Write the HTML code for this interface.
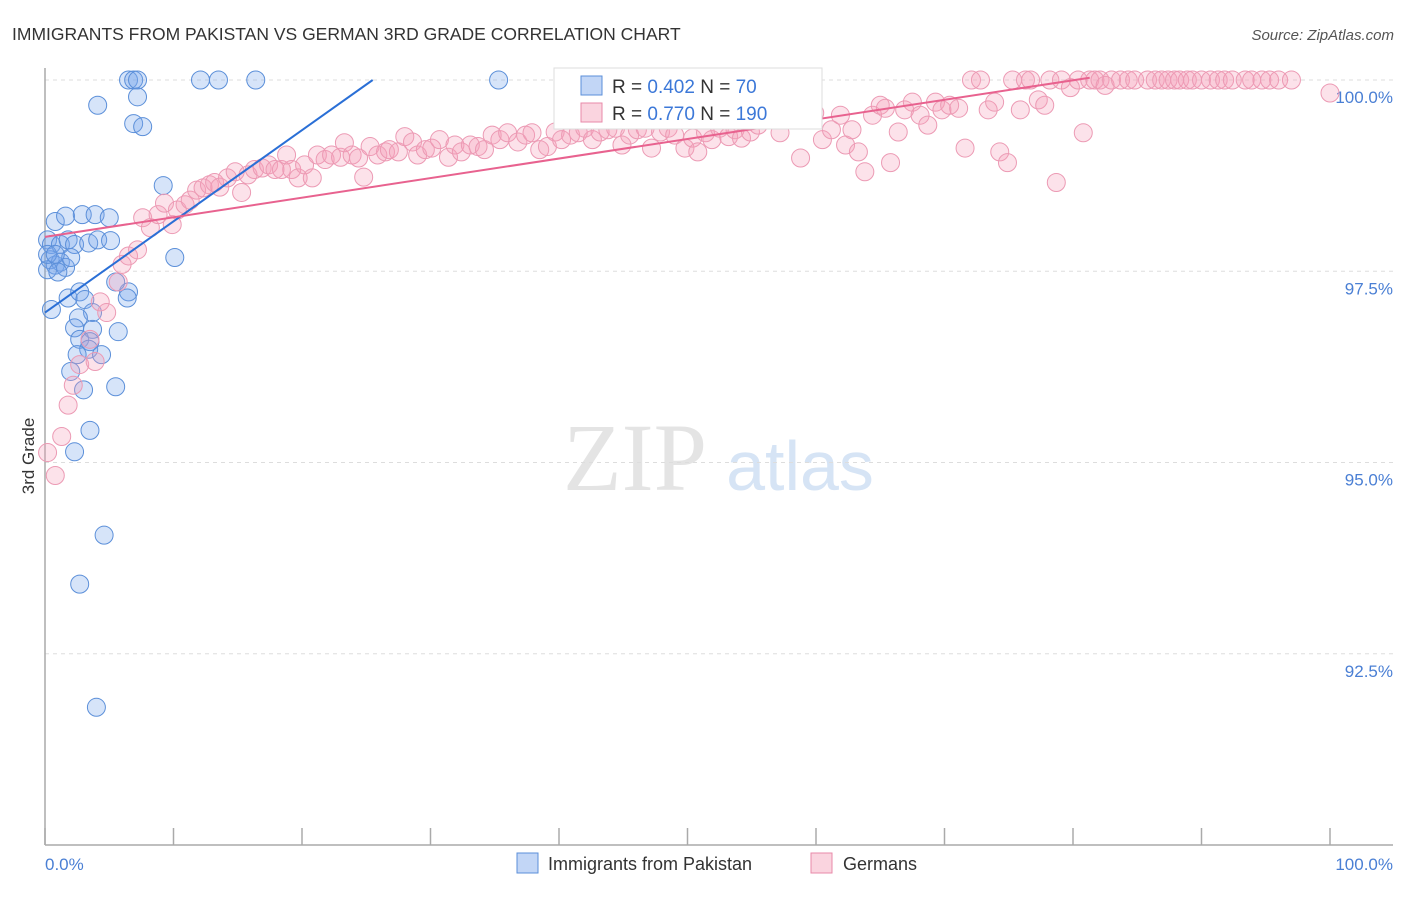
<!DOCTYPE html>
<html><head><meta charset="utf-8"><style>
body{margin:0;background:#fff;font-family:"Liberation Sans",sans-serif;}
svg text{font-family:"Liberation Sans",sans-serif;}
</style></head><body>
<svg id="chart" width="1406" height="892" viewBox="0 0 1406 892" xmlns="http://www.w3.org/2000/svg">
<text x="12" y="40" font-size="17.5" fill="#333">IMMIGRANTS FROM PAKISTAN VS GERMAN 3RD GRADE CORRELATION CHART</text>
<text x="1394" y="40" font-size="15" fill="#555" text-anchor="end" font-style="italic">Source: ZipAtlas.com</text>
<g>
<text x="635" y="490" font-size="96" fill="#e4e4e4" text-anchor="middle" font-family="Liberation Serif" style="font-family:'Liberation Serif',serif">ZIP</text>
<text x="800" y="490" font-size="70" fill="#d6e4f5" text-anchor="middle">atlas</text>
</g>
<g id="grid"></g>
<g id="axes"></g>
<g id="pts"></g>
<g id="trends"></g>
<text transform="translate(34,456) rotate(-90)" font-size="17" fill="#333" text-anchor="middle">3rd Grade</text>
<text x="45" y="870" font-size="17" fill="#4a7fd4">0.0%</text>
<text x="1393" y="870" font-size="17" fill="#4a7fd4" text-anchor="end">100.0%</text>
<g>
<rect x="554" y="68" width="268" height="61" fill="#fff" stroke="#ddd"/>
<rect x="581" y="76" width="21" height="19" fill="rgba(120,165,235,0.45)" stroke="#5b8fd9"/>
<rect x="581" y="103" width="21" height="19" fill="rgba(245,160,185,0.45)" stroke="#e88aa8"/>
<text x="612" y="93" font-size="19" fill="#333">R = <tspan fill="#3c78d8">0.402</tspan>   N =  <tspan fill="#3c78d8">70</tspan></text>
<text x="612" y="120" font-size="19" fill="#333">R = <tspan fill="#3c78d8">0.770</tspan>   N = <tspan fill="#3c78d8">190</tspan></text>
</g>
<g>
<rect x="517" y="853" width="21" height="20" fill="rgba(120,165,235,0.45)" stroke="#5b8fd9"/>
<text x="548" y="870" font-size="18" fill="#333">Immigrants from Pakistan</text>
</g>
<g>
<rect x="811" y="853" width="21" height="20" fill="rgba(245,160,185,0.45)" stroke="#e88aa8"/>
<text x="843" y="870" font-size="18" fill="#333">Germans</text>
</g>
</svg>
<script>
const yTicks=[100,97.5,95,92.5];
const yTickLabels=["100.0%","97.5%","95.0%","92.5%"];
const xTicks=[0,10,20,30,40,50,60,70,80,90,100];
const blueX=[6.5,6.9,7.2,12.1,13.5,16.4,35.3,4.1,7.2,6.9,7.6,9.2,0.8,1.6,2.9,3.9,5.0,0.2,0.5,1.2,1.8,2.3,3.4,4.1,5.1,0.4,0.8,1.2,1.6,2.0,0.2,1.0,10.1,1.8,2.7,3.1,0.5,3.7,2.6,5.7,3.7,2.3,2.7,3.5,3.4,4.4,2.5,2.0,3.0,5.5,3.5,2.3,4.6,2.7,4.0,6.5,5.5,6.4,0.2,0.8];
const blueY=[100,100,100,100,100,100,100,99.67,99.78,99.43,99.39,98.62,98.15,98.22,98.24,98.24,98.2,97.91,97.85,97.85,97.91,97.85,97.87,97.91,97.9,97.65,97.58,97.62,97.55,97.68,97.52,97.49,97.68,97.15,97.23,97.13,97.0,96.96,96.89,96.71,96.74,96.76,96.61,96.58,96.48,96.41,96.41,96.19,95.95,95.99,95.42,95.14,94.05,93.41,91.8,97.23,97.36,97.15,97.72,97.72];
const pinkX=[0.2,0.8,1.3,1.8,2.2,2.7,3.9,3.5,4.3,4.8,5.7,6.0,6.5,7.2,7.6,8.2,8.8,9.3,9.9,10.3,10.9,11.3,11.8,12.3,12.8,13.2,13.6,14.2,14.8,15.3,15.8,16.3,16.9,17.4,17.9,18.4,18.8,19.2,19.7,20.2,20.8,21.2,21.8,22.3,23.0,23.3,23.9,24.4,24.8,25.3,25.9,26.5,26.8,27.5,28.0,28.6,29.0,29.6,30.1,30.7,31.4,31.9,32.4,33.1,33.7,34.2,34.8,35.4,36.0,36.8,37.4,37.9,38.5,39.1,39.7,40.2,40.9,41.5,42.0,42.6,43.2,43.8,44.4,44.9,45.5,46.1,46.7,47.2,47.9,48.5,49.0,49.8,50.4,50.8,51.4,51.9,52.5,53.2,53.7,54.2,54.9,55.5,56.0,56.6,57.2,58.0,58.8,59.4,59.9,60.5,61.2,61.9,62.3,62.8,63.3,63.8,64.4,65.0,65.4,65.8,66.4,66.9,67.5,68.1,68.7,69.3,69.8,70.4,71.1,71.6,72.1,72.8,73.4,73.9,74.3,74.9,75.3,75.9,76.3,76.7,77.3,77.8,78.2,78.7,79.1,79.8,80.4,80.8,81.3,81.7,82.1,82.5,83.0,83.7,84.3,84.8,85.8,86.4,86.9,87.4,87.9,88.3,88.9,89.3,90.0,90.7,91.3,91.8,92.4,93.4,93.9,94.7,95.3,96.0,97.0,100];
const pinkY=[95.13,94.83,95.34,95.75,96.01,96.28,96.32,96.61,97.10,96.96,97.36,97.59,97.70,97.78,98.20,98.07,98.24,98.39,98.11,98.30,98.37,98.43,98.56,98.59,98.63,98.66,98.60,98.72,98.80,98.53,98.76,98.83,98.85,98.89,98.83,98.83,99.02,98.83,98.72,98.89,98.72,99.02,98.96,99.02,98.99,99.18,99.02,98.98,98.73,99.13,99.02,99.06,99.09,99.06,99.26,99.19,99.02,99.09,99.11,99.22,98.99,99.15,99.06,99.15,99.13,99.09,99.28,99.22,99.31,99.19,99.28,99.31,99.09,99.13,99.32,99.22,99.28,99.31,99.37,99.22,99.32,99.35,99.37,99.15,99.28,99.35,99.37,99.11,99.32,99.37,99.28,99.11,99.24,99.06,99.31,99.22,99.37,99.26,99.35,99.24,99.32,99.41,99.48,99.50,99.31,99.50,98.98,99.48,99.57,99.22,99.35,99.54,99.15,99.35,99.06,98.80,99.54,99.67,99.63,98.92,99.32,99.61,99.71,99.54,99.41,99.71,99.61,99.67,99.63,99.11,100,100,99.61,99.71,99.06,98.92,100,99.61,100,100,99.74,99.67,100,98.66,100,99.90,100,99.31,100,100,100,99.93,100,100,100,100,100,100,100,100,100,100,100,100,100,100,100,100,100,100,100,100,100,100,100,99.83];
const blueTrendX=[0,25.5];
const blueTrendY=[96.96,100];
const pinkTrendX=[0,81.3];
const pinkTrendY=[97.95,100.03];

const NS="http://www.w3.org/2000/svg";
const xs=v=>45+v*12.85;
const ys=v=>80+(100-v)*76.5;
function mk(tag,attrs,parent){const e=document.createElementNS(NS,tag);for(const k in attrs)e.setAttribute(k,attrs[k]);parent.appendChild(e);return e;}
const grid=document.getElementById('grid'),axes=document.getElementById('axes'),pts=document.getElementById('pts'),trends=document.getElementById('trends');
yTicks.forEach((t,i)=>{
 const l=mk('line',{x1:45,x2:1393,y1:ys(t),y2:ys(t),stroke:'#ddd','stroke-dasharray':'4,4'},grid);
 
 
 const tx=mk('text',{x:1393,y:ys(t)+23,'font-size':17,fill:'#4a7fd4','text-anchor':'end'},grid);
 tx.textContent=yTickLabels[i];
 
 
});
const ya=mk('line',{x1:45,x2:45,y1:68,y2:845,stroke:'#aaa','stroke-width':1.5},axes);


const xa=mk('line',{x1:45,x2:1393,y1:845,y2:845,stroke:'#aaa','stroke-width':1.5},axes);


xTicks.forEach(t=>{
 const tk=mk('line',{x1:xs(t),x2:xs(t),y1:828,y2:845,stroke:'#aaa','stroke-width':1.5},axes);
 
 
});
blueX.forEach((x,i)=>{
 const c=mk('circle',{cx:xs(x),cy:ys(blueY[i]),r:9,fill:'rgba(120,165,235,0.3)',stroke:'#5b8fd9','stroke-width':1},pts);
 
 
});
pinkX.forEach((x,i)=>{
 const c=mk('circle',{cx:xs(x),cy:ys(pinkY[i]),r:9,fill:'rgba(245,160,185,0.3)',stroke:'#ec9ab4','stroke-width':1},pts);
 
 
});
const bt=mk('line',{x1:xs(blueTrendX[0]),y1:ys(blueTrendY[0]),x2:xs(blueTrendX[1]),y2:ys(blueTrendY[1]),stroke:'#2a6fd6','stroke-width':2},trends);


const pt=mk('line',{x1:xs(pinkTrendX[0]),y1:ys(pinkTrendY[0]),x2:xs(pinkTrendX[1]),y2:ys(pinkTrendY[1]),stroke:'#e8628f','stroke-width':2},trends);


</script>
</body></html>
